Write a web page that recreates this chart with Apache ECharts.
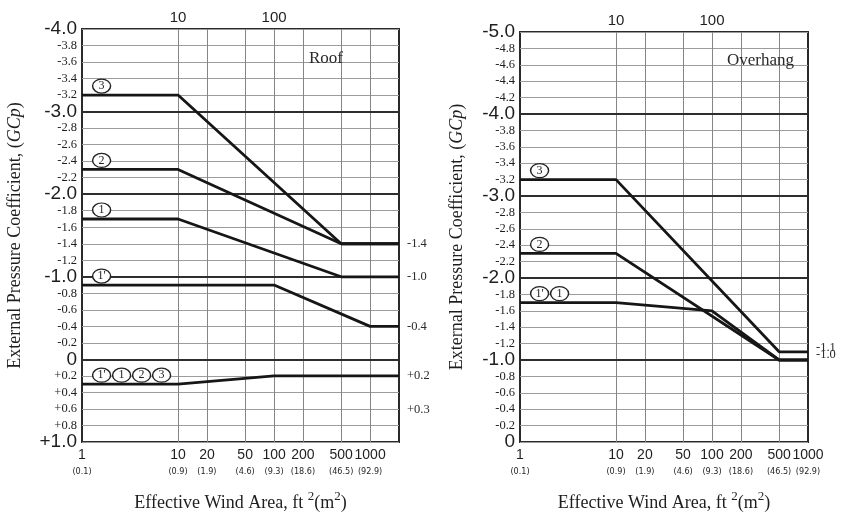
<!DOCTYPE html>
<html>
<head>
<meta charset="utf-8">
<script src="https://cdn.jsdelivr.net/npm/echarts@6/dist/echarts.min.js"></script>
<style>
  html, body { margin: 0; padding: 0; background: #fff; }
  #chart { width: 844px; height: 517px; }
</style>
</head>
<body>
<div id="chart"></div>
<script>
// Effective wind area ticks (ft²) with metric equivalents (m²)
const areaTicks = [1, 10, 20, 50, 100, 200, 500, 1000];
const areaMetric = ['(0.1)', '(0.9)', '(1.9)', '(4.6)', '(9.3)', '(18.6)', '(46.5)', '(92.9)'];
const areaGrid = [10, 20, 50, 100, 200, 500, 1000];
const topTicks = [10, 100];

// Roof panel: GCp vs effective wind area, [area, GCp]
const roofZone3 = [[1, -3.2], [10, -3.2], [500, -1.4], [2000, -1.4]];
const roofZone2 = [[1, -2.3], [10, -2.3], [500, -1.4], [2000, -1.4]];
const roofZone1 = [[1, -1.7], [10, -1.7], [500, -1.0], [2000, -1.0]];
const roofZone1p = [[1, -0.9], [100, -0.9], [1000, -0.4], [2000, -0.4]];
const roofPositive = [[1, 0.3], [10, 0.3], [100, 0.2], [2000, 0.2]];

// Overhang panel
const overZone3 = [[1, -3.2], [10, -3.2], [500, -1.1], [1000, -1.1]];
const overZone2 = [[1, -2.3], [10, -2.3], [500, -1.0], [1000, -1.0]];
const overZone1 = [[1, -1.7], [10, -1.7], [100, -1.6], [500, -1.0], [1000, -1.0]];

// Axis ranges and heavy reference lines
const roofY = [-4, 1];
const overY = [-5, 0];
const yStep = 0.2;
const roofXMax = 2000;
const overXMax = 1000;
const roofMajor = [-3, -2, -1, 0];
const overMajor = [-4, -3, -2, -1];

// Zone tags: [text, anchor area, anchor GCp, horizontal shift]
const roofTags = [
  ['3', 1.6, -3.2, 0], ['2', 1.6, -2.3, 0], ['1', 1.6, -1.7, 0], ["1'", 1.6, -0.9, 0],
  ["1'", 1.6, 0.3, 0], ['1', 1.6, 0.3, 20], ['2', 1.6, 0.3, 40], ['3', 1.6, 0.3, 60]
];
const overTags = [
  ['3', 1.6, -3.2, 0], ['2', 1.6, -2.3, 0], ["1'", 1.6, -1.7, 0], ['1', 1.6, -1.7, 20]
];

// End values written beside the right border: [text, GCp, vertical shift]
const roofEnds = [['-1.4', -1.4, 0], ['-1.0', -1.0, 0], ['-0.4', -0.4, 0], ['+0.2', 0.2, 0], ['+0.3', 0.3, 26]];
const overEnds = [['-1.1', -1.1, -4], ['-1.0', -1.0, -5]];

const INK = '#1e1e1e';
const SERIF = 'Liberation Serif';
const SANS = 'Liberation Sans';

function yLabel(v) {
  const r = Math.round(v * 10) / 10;
  const sign = r > 0 ? '+' : '';
  if (Math.abs(r - Math.round(r)) < 1e-9) {
    return r === 0 ? '{big|0}' : '{big|' + sign + r.toFixed(1) + '}';
  }
  return '{small|' + sign + r.toFixed(1) + '}';
}

function xLabel(v) {
  const i = areaTicks.findIndex(t => Math.abs(t - v) / t < 1e-6);
  if (i < 0) return '';
  return '{a|' + areaTicks[i] + '}\n{b|' + areaMetric[i] + '}';
}

function bottomAxis(grid, xmax) {
  return {
    type: 'log', logBase: 10, gridIndex: grid, min: 1, max: xmax,
    axisLine: { show: false }, axisTick: { show: false }, splitLine: { show: false },
    axisLabel: {
      customValues: areaTicks.filter(t => t <= xmax), margin: 4, formatter: xLabel,
      rich: {
        a: { fontFamily: SANS, fontSize: 14, color: INK, lineHeight: 18, align: 'center' },
        b: { fontFamily: 'DejaVu Sans Condensed', fontSize: 9, color: INK, lineHeight: 16, align: 'center' }
      }
    },
    name: '{n|Effective Wind Area, ft }{s|2}{n|(m}{s|2}{n|)}',
    nameLocation: 'middle', nameGap: 48,
    nameTextStyle: {
      rich: {
        n: { fontFamily: SERIF, fontSize: 18, color: INK, lineHeight: 22, verticalAlign: 'bottom' },
        s: { fontFamily: SERIF, fontSize: 13, color: INK, lineHeight: 22, verticalAlign: 'top', padding: [0, 0, 6, 0] }
      }
    }
  };
}

function topAxis(grid, xmax) {
  return {
    type: 'log', logBase: 10, gridIndex: grid, min: 1, max: xmax, position: 'top',
    axisLine: { show: false }, axisTick: { show: false }, splitLine: { show: false },
    axisLabel: {
      customValues: topTicks, margin: 4,
      formatter: v => String(Math.round(v)),
      fontFamily: SANS, fontSize: 15, color: INK
    }
  };
}

function leftAxis(grid, range, gap) {
  return {
    type: 'value', gridIndex: grid, min: range[0], max: range[1], interval: yStep, inverse: true,
    axisLine: { show: false }, axisTick: { show: false },
    splitLine: { show: true, lineStyle: { color: '#9c9c9c', width: 1 } },
    axisLabel: {
      margin: 5, formatter: yLabel,
      rich: {
        big: { fontFamily: SANS, fontSize: 19, color: INK, lineHeight: 16 },
        small: { fontFamily: SERIF, fontSize: 12.5, color: INK, lineHeight: 14 }
      }
    },
    name: 'External Pressure Coefficient, ({i|GCp})',
    nameLocation: 'middle', nameGap: gap, nameRotate: 90,
    nameTextStyle: {
      fontFamily: SERIF, fontSize: 18, color: INK,
      rich: { i: { fontFamily: SERIF, fontStyle: 'italic', fontSize: 18, color: INK } }
    }
  };
}

function curve(data, xi, yi) {
  return {
    type: 'line', data: data, xAxisIndex: xi, yAxisIndex: yi, symbol: 'none', z: 5,
    lineStyle: { color: '#161616', width: 2.8 }, animation: false
  };
}

function guides(xi, yi, xmax, major, tags, ends) {
  return {
    type: 'line', xAxisIndex: xi, yAxisIndex: yi, z: 3, silent: true, animation: false,
    data: [[1, major[0]]], symbol: 'none', lineStyle: { width: 0 },
    markLine: {
      silent: true, symbol: 'none', animation: false, label: { show: false },
      data: areaGrid.filter(v => v < xmax).map(v => ({ xAxis: v, lineStyle: { color: '#858585', width: 1, type: 'solid' } }))
        .concat(major.map(v => ({ yAxis: v, lineStyle: { color: '#2e2e2e', width: 1.8, type: 'solid' } })))
    },
    markPoint: {
      silent: true, animation: false,
      data: tags.map(t => ({
        coord: [t[1], t[2]], symbol: 'circle', symbolSize: [18, 14], symbolOffset: [t[3], -9],
        itemStyle: { color: '#fff', borderColor: '#222', borderWidth: 1.3 },
        label: { show: true, position: 'inside', formatter: t[0], fontFamily: SERIF, fontSize: 12, color: '#222' }
      })).concat(ends.map(e => ({
        coord: [xmax, e[1]], symbol: 'circle', symbolSize: 0,
        itemStyle: { color: 'transparent' },
        label: { show: true, position: 'right', distance: 8, offset: [0, e[2]], formatter: e[0], fontFamily: SERIF, fontSize: 12.5, color: '#2a2a2a' }
      })))
    }
  };
}

const chart = echarts.init(document.getElementById('chart'), null, { renderer: 'canvas' });
chart.setOption({
  backgroundColor: '#fff',
  animation: false,
  title: [
    { text: 'Roof', left: 304, top: 45, textStyle: { fontFamily: SERIF, fontSize: 17, fontWeight: 'normal', color: '#2a2a2a' } },
    { text: 'Overhang', left: 722, top: 47, textStyle: { fontFamily: SERIF, fontSize: 17, fontWeight: 'normal', color: '#2a2a2a' } }
  ],
  grid: [
    { left: 82, top: 29, width: 317, height: 415, show: true, backgroundColor: '#fff', borderColor: '#2a2a2a', borderWidth: 2 },
    { left: 520, top: 32, width: 288, height: 413, show: true, backgroundColor: '#fff', borderColor: '#2a2a2a', borderWidth: 2 }
  ],
  xAxis: [bottomAxis(0, roofXMax), topAxis(0, roofXMax), bottomAxis(1, overXMax), topAxis(1, overXMax)],
  yAxis: [leftAxis(0, roofY, 58), leftAxis(1, overY, 54)],
  series: [
    guides(0, 0, roofXMax, roofMajor, roofTags, roofEnds),
    curve(roofZone3, 0, 0), curve(roofZone2, 0, 0), curve(roofZone1, 0, 0),
    curve(roofZone1p, 0, 0), curve(roofPositive, 0, 0),
    guides(2, 1, overXMax, overMajor, overTags, overEnds),
    curve(overZone3, 2, 1), curve(overZone2, 2, 1), curve(overZone1, 2, 1)
  ]
});
</script>
</body>
</html>
